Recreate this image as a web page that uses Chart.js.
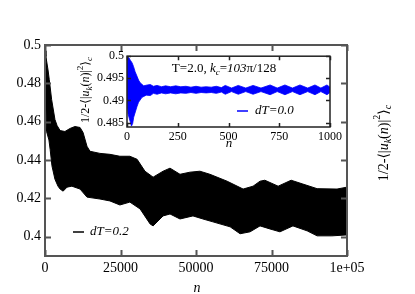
<!DOCTYPE html>
<html>
<head>
<meta charset="utf-8">
<script src="https://cdn.jsdelivr.net/npm/chart.js@4"></script>
<style>
  html, body { margin: 0; padding: 0; background: #fff; }
  #wrap { position: relative; width: 415px; height: 294px; }
  #main { position: absolute; left: 0; top: 0; }
  #inset { position: absolute; left: 60px; top: 46px; }
</style>
</head>
<body>
<div id="wrap">
  <canvas id="main" width="415" height="294"></canvas>
  <canvas id="inset" width="285" height="106"></canvas>
</div>
<script>
// ---- main panel, dT=0.2 : envelope of the fast oscillation ----
const upperN = [0, 300, 1000, 1420, 2200, 3300, 4000, 5000, 6600, 8300, 9900, 11600, 12600, 13900, 14900, 18200, 21500, 24800, 28100, 30500, 33100, 35800, 39100, 41400, 44700, 48000, 51300, 54600, 60300, 65600, 68900, 71200, 72800, 77200, 81500, 85400, 90100, 96700, 100000];
const upperV = [0.497, 0.494, 0.487, 0.4819, 0.4715, 0.4611, 0.458, 0.4554, 0.4549, 0.4565, 0.4575, 0.457, 0.4544, 0.4472, 0.4446, 0.4435, 0.443, 0.442, 0.442, 0.4404, 0.4342, 0.4311, 0.4342, 0.4358, 0.4326, 0.4337, 0.4342, 0.4326, 0.429, 0.4249, 0.4264, 0.429, 0.4295, 0.4264, 0.4295, 0.4275, 0.4251, 0.4249, 0.4259];
const lowerN = [0, 200, 500, 1300, 1700, 2300, 3300, 4300, 5000, 6000, 7300, 8900, 11600, 13900, 18200, 21500, 24800, 28100, 31500, 34800, 35800, 39100, 41400, 44700, 49000, 52300, 55600, 61300, 64600, 67900, 71200, 74500, 77800, 82100, 86800, 90100, 95000, 100000];
const lowerV = [0.497, 0.475, 0.455, 0.4505, 0.4456, 0.437, 0.430, 0.4264, 0.4249, 0.4238, 0.4259, 0.4264, 0.4249, 0.4207, 0.4197, 0.4187, 0.4166, 0.4181, 0.4145, 0.4067, 0.4057, 0.4109, 0.4119, 0.4093, 0.4109, 0.4093, 0.4078, 0.4052, 0.4016, 0.4026, 0.4057, 0.4041, 0.4026, 0.4057, 0.4031, 0.4005, 0.4005, 0.401];
const mainXTicks = [0, 25000, 50000, 75000, 100000];
const mainXLabels = ["0", "25000", "50000", "75000", "1e+05"];
const mainYTicks = [0.4, 0.42, 0.44, 0.46, 0.48, 0.5];
const mainYLabels = ["0.4", "0.42", "0.44", "0.46", "0.48", "0.5"];

// ---- inset, dT=0.0 ----
const insetUpperN = [0, 3, 10, 18, 25, 32, 40, 49, 57, 65, 82, 100, 115, 130, 148, 170, 190, 215, 240, 265, 290, 315, 340, 365, 390, 415, 440, 465, 484, 515, 548, 585, 621, 660, 705, 740, 778, 815, 852, 890, 926, 955, 985, 1000];
const insetUpperV = [0.4985, 0.4998, 0.4996, 0.499, 0.4985, 0.4977, 0.4965, 0.4955, 0.4946, 0.494, 0.4933, 0.4935, 0.4936, 0.4932, 0.4934, 0.4931, 0.4933, 0.4931, 0.4933, 0.4931, 0.4932, 0.493, 0.4932, 0.493, 0.4931, 0.493, 0.4932, 0.4929, 0.4934, 0.4928, 0.4934, 0.4928, 0.4934, 0.4928, 0.4935, 0.4928, 0.4935, 0.4928, 0.4935, 0.4928, 0.4935, 0.4928, 0.4935, 0.493];
const insetLowerN = [0, 5, 12, 22, 28, 33, 41, 49, 57, 74, 95, 115, 130, 148, 170, 190, 215, 240, 265, 290, 315, 340, 365, 390, 415, 440, 465, 484, 515, 548, 585, 621, 660, 705, 740, 778, 815, 852, 890, 926, 955, 985, 1000];
const insetLowerV = [0.49, 0.487, 0.4858, 0.4842, 0.4848, 0.4862, 0.4874, 0.4886, 0.4896, 0.4907, 0.4912, 0.4911, 0.4916, 0.4914, 0.4917, 0.4915, 0.4917, 0.4915, 0.4917, 0.4916, 0.4918, 0.4916, 0.4918, 0.4917, 0.4918, 0.4916, 0.4919, 0.4914, 0.492, 0.4914, 0.492, 0.4914, 0.492, 0.4913, 0.492, 0.4913, 0.492, 0.4913, 0.492, 0.4913, 0.492, 0.4913, 0.4918];
const insetMean = 0.4924;
const insetXTicks = [0, 250, 500, 750, 1000];
const insetXLabels = ["0", "250", "500", "750", "1000"];
const insetYTicks = [0.485, 0.49, 0.495, 0.5];
const insetYLabels = ["0.485", "0.49", "0.495", "0.5"];

const SERIF = '"Liberation Serif", "Times New Roman", "DejaVu Serif", serif';
Chart.defaults.font.family = SERIF;
Chart.defaults.color = "#000";

function pts(xs, ys) { return xs.map((x, i) => ({ x: x, y: ys[i] })); }

// text with italics / sub / superscripts, centred on (cx, cy)
function drawRich(ctx, parts, cx, cy, size, angle) {
  const fontOf = p => (p.i ? "italic " : "") + (p.s ? Math.round(size * 0.72) : size) + "px " + SERIF;
  ctx.save();
  ctx.translate(cx, cy);
  ctx.rotate(angle || 0);
  let w = 0;
  parts.forEach(p => { ctx.font = fontOf(p); w += ctx.measureText(p.t).width; });
  let px = -w / 2;
  ctx.textAlign = "left";
  ctx.textBaseline = "middle";
  ctx.fillStyle = "#000";
  parts.forEach(p => {
    ctx.font = fontOf(p);
    ctx.fillText(p.t, px, (p.s || 0) * size);
    px += ctx.measureText(p.t).width;
  });
  ctx.restore();
}

const yLabelParts = [
  { t: "1/2-\u27E8|" }, { t: "u", i: 1 }, { t: "k", i: 1, s: 0.3 }, { t: "(" }, { t: "n", i: 1 },
  { t: ")|" }, { t: "2", s: -0.45 }, { t: "\u27E9" }, { t: "c", i: 1, s: 0.3 }
];

// box round the plot area with inward ticks on all four sides
const framePlugin = {
  id: "frame",
  afterDatasetsDraw(chart, args, opts) {
    const { ctx, chartArea: a, scales: { x, y } } = chart;
    ctx.save();
    ctx.strokeStyle = opts.color;
    ctx.lineWidth = opts.width;
    ctx.beginPath();
    x.ticks.forEach(t => {
      const p = Math.round(x.getPixelForValue(t.value)) + 0.5;
      ctx.moveTo(p, a.bottom); ctx.lineTo(p, a.bottom - opts.tick);
      ctx.moveTo(p, a.top); ctx.lineTo(p, a.top + opts.tick);
    });
    y.ticks.forEach(t => {
      const p = Math.round(y.getPixelForValue(t.value)) + 0.5;
      ctx.moveTo(a.left, p); ctx.lineTo(a.left + opts.tick, p);
      ctx.moveTo(a.right, p); ctx.lineTo(a.right - opts.tick, p);
    });
    ctx.stroke();
    ctx.strokeRect(a.left, a.top, a.right - a.left, a.bottom - a.top);
    ctx.restore();
  }
};

function axes(xmin, xmax, xt, xl, ymin, ymax, yt, yl, size, yw, xh, pad) {
  return {
    x: {
      type: "linear", min: xmin, max: xmax,
      afterBuildTicks: s => { s.ticks = xt.map(v => ({ value: v })); },
      afterFit: s => { s.height = xh; },
      grid: { display: false, drawTicks: false },
      border: { display: false },
      ticks: { callback: (v, i) => xl[i], font: { size: size }, padding: pad, maxRotation: 0, autoSkip: false }
    },
    y: {
      type: "linear", min: ymin, max: ymax,
      afterBuildTicks: s => { s.ticks = yt.map(v => ({ value: v })); },
      afterFit: s => { s.width = yw; },
      grid: { display: false, drawTicks: false },
      border: { display: false },
      ticks: { callback: (v, i) => yl[i], font: { size: size }, padding: pad, autoSkip: false }
    }
  };
}

new Chart(document.getElementById("main"), {
  type: "line",
  data: {
    datasets: [
      { data: pts(upperN, upperV), borderColor: "#000", borderWidth: 1, pointRadius: 0, fill: false },
      { data: pts(lowerN, lowerV), borderColor: "#000", borderWidth: 1, pointRadius: 0, fill: "-1", backgroundColor: "#000" }
    ]
  },
  options: {
    responsive: false,
    animation: false,
    devicePixelRatio: 1,
    layout: { padding: { top: 45, right: 68, left: 0, bottom: 0 } },
    plugins: {
      legend: { display: false },
      tooltip: { enabled: false },
      frame: { color: "#555", width: 2, tick: 6 }
    },
    scales: axes(0, 100000, mainXTicks, mainXLabels, 0.39, 0.5, mainYTicks, mainYLabels, 14, 45, 38, 4)
  },
  plugins: [framePlugin, {
    id: "mainText",
    afterDraw(chart) {
      const ctx = chart.ctx;
      ctx.save();
      ctx.strokeStyle = "#000"; ctx.lineWidth = 1.5;
      ctx.beginPath(); ctx.moveTo(73, 232); ctx.lineTo(84, 232); ctx.stroke();
      ctx.fillStyle = "#000";
      ctx.font = "italic 13px " + SERIF;
      ctx.textBaseline = "middle"; ctx.textAlign = "left";
      ctx.fillText("dT=0.2", 90, 232);
      ctx.font = "italic 14px " + SERIF;
      ctx.textAlign = "center";
      ctx.fillText("n", 197, 288);
      ctx.restore();
      drawRich(ctx, yLabelParts, 384, 143, 14, -Math.PI / 2);
    }
  }]
});

new Chart(document.getElementById("inset"), {
  type: "line",
  data: {
    datasets: [
      { data: pts(insetUpperN, insetUpperV), borderColor: "#0000ff", borderWidth: 0.8, pointRadius: 0, fill: false },
      { data: pts(insetLowerN, insetLowerV), borderColor: "#0000ff", borderWidth: 0.8, pointRadius: 0, fill: "-1", backgroundColor: "#0000ff" },
      { data: [{ x: 0, y: insetMean }, { x: 1000, y: insetMean }], borderColor: "#ff0000", borderWidth: 1.5, borderDash: [5, 3], pointRadius: 0, fill: false }
    ]
  },
  options: {
    responsive: false,
    animation: false,
    devicePixelRatio: 1,
    layout: { padding: { top: 8, right: 15, left: 0, bottom: 0 } },
    plugins: {
      legend: { display: false },
      tooltip: { enabled: false },
      frame: { color: "#222", width: 1.5, tick: 4 }
    },
    scales: axes(0, 1000, insetXTicks, insetXLabels, 0.484, 0.5, insetYTicks, insetYLabels, 12, 67, 25, 3)
  },
  plugins: [{
    id: "insetBg",
    beforeDatasetsDraw(chart) {
      const { ctx, chartArea: a } = chart;
      ctx.save(); ctx.fillStyle = "#fff";
      ctx.fillRect(a.left, a.top, a.right - a.left, a.bottom - a.top);
      ctx.restore();
    }
  }, framePlugin, {
    id: "insetText",
    afterDraw(chart) {
      const ctx = chart.ctx;
      drawRich(ctx, [
        { t: "T=2.0, " }, { t: "k", i: 1 }, { t: "c", i: 1, s: 0.3 }, { t: "=" }, { t: "103", i: 1 }, { t: "\u03C0/128" }
      ], 164, 23, 13, 0);
      ctx.save();
      ctx.strokeStyle = "#0000ff"; ctx.lineWidth = 1.5;
      ctx.beginPath(); ctx.moveTo(177, 65); ctx.lineTo(188, 65); ctx.stroke();
      ctx.fillStyle = "#000";
      ctx.font = "italic 13px " + SERIF;
      ctx.textBaseline = "middle"; ctx.textAlign = "left";
      ctx.fillText("dT=0.0", 195, 65);
      ctx.textAlign = "center";
      ctx.fillText("n", 169, 98);
      ctx.restore();
      drawRich(ctx, yLabelParts, 26, 44, 12, -Math.PI / 2);
    }
  }]
});
</script>
</body>
</html>
